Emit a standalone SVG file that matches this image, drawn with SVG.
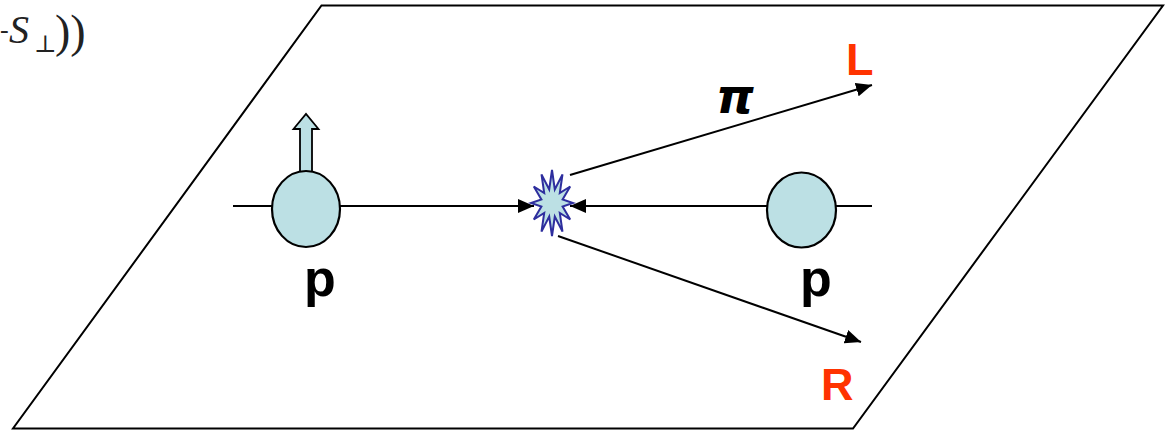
<svg xmlns="http://www.w3.org/2000/svg" width="1174" height="431" viewBox="0 0 1174 431">
<style>
.ln{stroke:#000;stroke-width:2;fill:none}
.ball{fill:#BCE0E4;stroke:#000;stroke-width:2.2}
.lbl{font-family:"Liberation Sans",Arial,sans-serif;font-weight:bold}
.red{fill:#FF3300;font-size:45px}
.math{font-family:"Liberation Serif","DejaVu Serif",serif;fill:#222}
</style>
<defs>
<marker id="ah" markerWidth="16" markerHeight="14" refX="16" refY="7" orient="auto" markerUnits="userSpaceOnUse">
<path d="M0,0 L16,7 L0,14 Z" fill="#000"/>
</marker>
</defs>
<rect width="1174" height="431" fill="#fff"/>
<g id="plane">
<polygon points="321.5,5.5 1163,5.5 853,428.5 13,428.5" class="ln"/>
</g>
<g id="formula">
<text class="math" x="0" y="38" font-size="26">-</text>
<text class="math" x="9" y="43" font-size="40" font-style="italic">S</text>
<text class="math" x="34" y="52" font-size="24">⊥</text>
<text class="math" x="55" y="47" font-size="46">))</text>
</g>
<g id="connectors">
<line x1="233" y1="206" x2="534" y2="206" class="ln" marker-end="url(#ah)"/>
<line x1="872" y1="206" x2="570" y2="206" class="ln" marker-end="url(#ah)"/>
<line x1="570" y1="175" x2="872" y2="85" class="ln" marker-end="url(#ah)"/>
<line x1="558" y1="236" x2="861" y2="342" class="ln" marker-end="url(#ah)"/>
</g>
<g id="proton-left">
<path d="M300,176 L300,129 L293.5,129 L306,114 L318.5,129 L312,129 L312,176 Z" fill="#BCE0E4" stroke="#000" stroke-width="1.8" stroke-linejoin="miter"/>
<ellipse cx="306" cy="209" rx="34" ry="38" class="ball"/>
<text class="lbl" x="320" y="296" font-size="52" text-anchor="middle">p</text>
</g>
<g id="proton-right">
<ellipse cx="801.5" cy="210" rx="34.5" ry="37.5" class="ball"/>
<text class="lbl" x="816" y="296" font-size="52" text-anchor="middle">p</text>
</g>
<g id="collision">
<polygon points="552,170 554.8,189.5 562.5,174.4 559.8,193.1 570.2,186.5 562.6,199.4 573,203 562.6,206.6 570.2,219.5 559.8,212.9 562.5,231.6 554.8,216.5 552,236 549.2,216.5 541.5,231.6 544.2,212.9 533.8,219.5 541.4,206.6 531,203 541.4,199.4 533.8,186.5 544.2,193.1 541.5,174.4 549.2,189.5" fill="#BCE0E4" stroke="#2E2E9E" stroke-width="2" stroke-linejoin="miter"/>
</g>
<g id="pion">
<text x="735" y="113" font-family="'DejaVu Sans',sans-serif" font-weight="bold" font-style="italic" font-size="48" text-anchor="middle">π</text>
</g>
<g id="label-L">
<text class="lbl red" x="846" y="75">L</text>
</g>
<g id="label-R">
<text class="lbl red" x="821" y="400">R</text>
</g>
</svg>
